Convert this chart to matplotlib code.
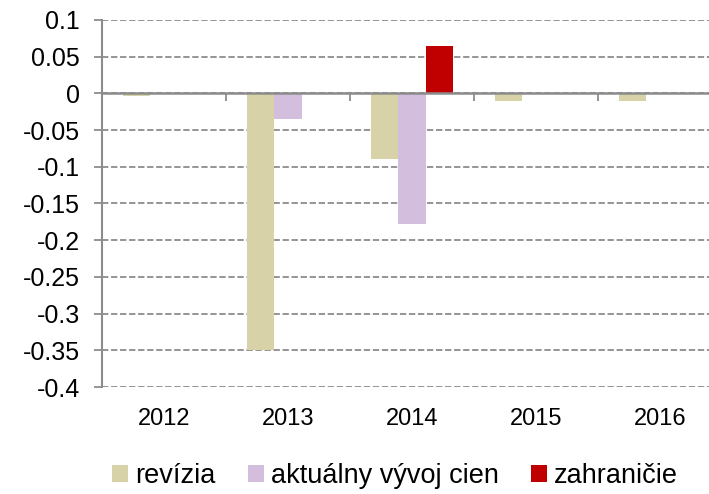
import matplotlib
matplotlib.use('Agg')
import matplotlib.pyplot as plt
import numpy as np

plt.rcParams['font.family'] = ['Liberation Sans', 'DejaVu Sans']

years = ['2012', '2013', '2014', '2015', '2016']
series_names = ['revízia', 'aktuálny vývoj cien', 'zahraničie']
revizia = [-0.003, -0.35, -0.09, -0.01, -0.01]
aktualny = [0.0, -0.035, -0.178, 0.0, 0.0]
zahranicie = [0.0, 0.0, 0.065, 0.0, 0.0]
colors = ['#D8D2A8', '#D4BEDD', '#C00000']
y_ticks = np.round(np.arange(-0.4, 0.1001, 0.05), 2)

fig = plt.figure(figsize=(7.09, 4.94), dpi=100)
ax = fig.add_axes([102 / 709, 1 - 387 / 494, 620 / 709, 367 / 494])

x = np.arange(len(years))
w = 0.223
for k, (vals, c, name) in enumerate(zip([revizia, aktualny, zahranicie], colors, series_names)):
    ax.bar(x + (k - 1) * w, vals, width=w, color=c, label=name, zorder=3)

grid_color = '#8C8C8C'
ax.set_ylim(-0.4, 0.1)
ax.set_xlim(-0.5, len(years) - 0.5)
ax.set_yticks(y_ticks)
ax.set_yticklabels(['0' if v == 0 else f'{v:g}' for v in y_ticks], fontsize=18)
ax.grid(axis='y', color=grid_color, linestyle=(0, (3.5, 1.5)), linewidth=1.3, zorder=0)
ax.grid(axis='x', visible=False)

for s in ['top', 'right']:
    ax.spines[s].set_visible(False)
ax.spines['left'].set_color(grid_color)
ax.spines['left'].set_linewidth(1.5)
ax.spines['bottom'].set_position(('data', 0))
ax.spines['bottom'].set_color(grid_color)
ax.spines['bottom'].set_linewidth(1.8)
ax.spines['bottom'].set_zorder(4)

ax.set_xticks(np.arange(len(years) + 1) - 0.5)
ax.set_xticklabels([])
ax.tick_params(axis='x', length=6, width=1.3, color=grid_color, direction='out')
ax.tick_params(axis='y', length=6, width=1.3, color=grid_color, direction='out', pad=10)

for i, yr in enumerate(years):
    ax.annotate(yr, xy=(i, 0), xycoords=('data', 'axes fraction'),
                xytext=(0, -32), textcoords='offset pixels',
                ha='center', va='center', fontsize=17)

fig.legend(loc='center', bbox_to_anchor=(395 / 709, 1 - 476 / 494), ncol=3,
           frameon=False, fontsize=19.5,
           handlelength=0.6, handleheight=0.6,
           handletextpad=0.25, columnspacing=1.2, borderaxespad=0)

fig.savefig('out.png', dpi=100)
